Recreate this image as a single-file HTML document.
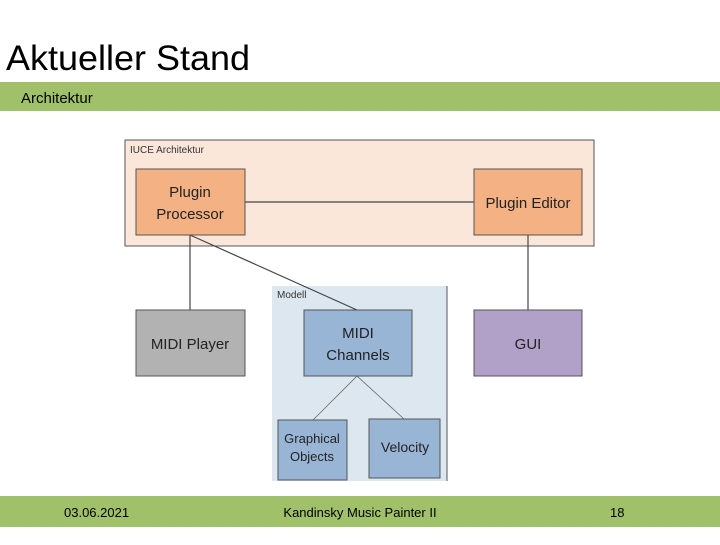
<!DOCTYPE html>
<html><head><meta charset="utf-8"><style>
body{margin:0;width:720px;height:540px;overflow:hidden;background:#fff;font-family:"Liberation Sans",sans-serif}
</style></head><body>
<svg width="720" height="540" xmlns="http://www.w3.org/2000/svg" font-family="Liberation Sans, sans-serif">
<text x="6" y="70" font-size="35" fill="#000" textLength="244" lengthAdjust="spacingAndGlyphs">Aktueller Stand</text>
<rect x="0" y="82" width="720" height="29" fill="#a0c06a"/>
<text x="21" y="103" font-size="15" fill="#000">Architektur</text>

<rect x="125" y="140" width="469" height="106" fill="#fbe6da" stroke="#555" stroke-width="1"/>
<text x="130" y="153" font-size="10" fill="#333">IUCE Architektur</text>
<rect x="272" y="286" width="175" height="195" fill="#dde7f0"/>
<line x1="447" y1="286" x2="447" y2="481" stroke="#555"/>
<text x="277" y="298" font-size="10" fill="#333">Modell</text>

<g stroke="#444" stroke-width="1.2">
<line x1="245" y1="202" x2="474" y2="202"/>
<line x1="190" y1="235" x2="190" y2="310"/>
<line x1="190" y1="235" x2="357" y2="310"/>
<line x1="528" y1="235" x2="528" y2="310"/>
</g>
<g stroke="#666" stroke-width="0.8">
<line x1="357" y1="376" x2="313" y2="420"/>
<line x1="357" y1="376" x2="404" y2="419"/>
</g>

<g stroke="#555" stroke-width="1">
<rect x="136" y="169" width="109" height="66" fill="#f4b183"/>
<rect x="474" y="169" width="108" height="66" fill="#f4b183"/>
<rect x="136" y="310" width="109" height="66" fill="#b2b2b2"/>
<rect x="304" y="310" width="108" height="66" fill="#98b5d6"/>
<rect x="474" y="310" width="108" height="66" fill="#b1a0c7"/>
<rect x="278" y="420" width="69" height="60" fill="#98b5d6"/>
<rect x="369" y="419" width="71" height="59" fill="#98b5d6"/>
</g>
<g font-size="15" fill="#222" text-anchor="middle">
<text x="190" y="197">Plugin</text>
<text x="190" y="219">Processor</text>
<text x="528" y="208">Plugin Editor</text>
<text x="190" y="349">MIDI Player</text>
<text x="358" y="338">MIDI</text>
<text x="358" y="360">Channels</text>
<text x="528" y="349">GUI</text>
<text x="312" y="443" font-size="13">Graphical</text>
<text x="312" y="461" font-size="13">Objects</text>
<text x="405" y="452" font-size="14">Velocity</text>
</g>

<rect x="0" y="496" width="720" height="31" fill="#a0c06a"/>
<g font-size="13" fill="#000">
<text x="64" y="517">03.06.2021</text>
<text x="360" y="517" text-anchor="middle">Kandinsky Music Painter II</text>
<text x="610" y="517">18</text>
</g>
</svg>
</body></html>
